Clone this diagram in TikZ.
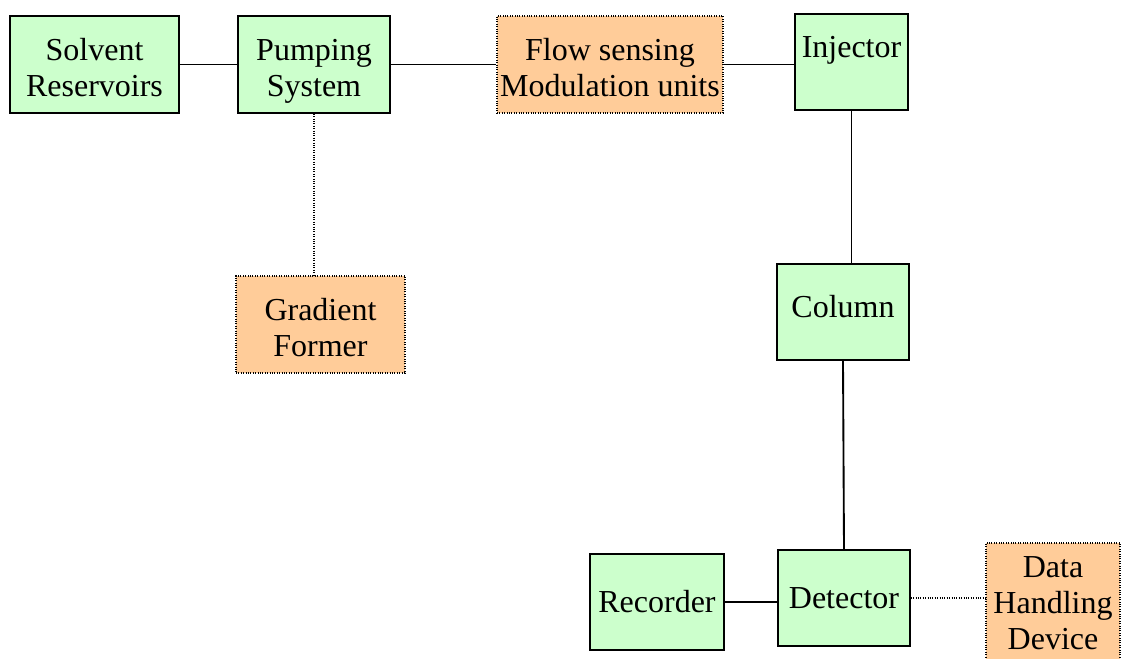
\documentclass[tikz,border=0pt]{standalone}
\usepackage{fontspec}
\setmainfont{Liberation Serif}
\usepackage{tikz}

\begin{document}
\begin{tikzpicture} [x=0.75pt,y=-0.75pt,
			unit/.style={draw,line width=1.1pt,fill={rgb,255:red,204;green,255;blue,204},inner sep=0pt,align=center,font=\fontsize{24}{27}\selectfont},
			extra/.style={draw,densely dotted,line width=0.8pt,fill={rgb,255:red,255;green,204;blue,153},inner sep=0pt,align=center,font=\fontsize{24}{27}\selectfont},
			twoline/.style={text height=50pt,text depth=2pt},
			link/.style={line width=1.4pt},
			dotlink/.style={densely dotted,line width=0.8pt}]
			\clip (0,0) rectangle (1122,659);
			\fill[white] (0,0) rectangle (1122,659);
			
			\node[unit,twoline,minimum width=126.75pt,minimum height=72.75pt] (solvent) at (94.5,64.5) {Solvent\\Reservoirs};
			\node[unit,twoline,minimum width=114pt,minimum height=72.75pt] (pump) at (314,64.5) {Pumping\\System};
			\node[extra,twoline,minimum width=169.5pt,minimum height=72.75pt] (flow) at (610,64.5) {Flow sensing\\Modulation units};
			\node[unit,minimum width=84.75pt,minimum height=72pt] (inj) at (851.5,62) {\raisebox{9pt}[\height][\depth]{Injector}};
			\node[extra,twoline,minimum width=126.75pt,minimum height=72.75pt] (grad) at (320.5,324.5) {Gradient\\Former};
			\node[unit,text height=16pt,text depth=7pt,minimum width=99pt,minimum height=72pt] (col) at (843,312) {Column};
			\node[unit,minimum width=100.5pt,minimum height=72pt] (rec) at (657,602) {Recorder};
			\node[unit,minimum width=99pt,minimum height=72pt] (det) at (844,598) {Detector};
			\node[extra,minimum width=100.5pt,minimum height=90pt] (data) at (1053,603) {Data\\Handling\\Device};
			
			\draw[link] (solvent.east) -- (pump.west);
			\draw[link] (pump.east) -- (flow.west);
			\draw[link] (flow.east) -- (flow.east -| inj.west);
			\draw[link] (inj.south) -- (inj.south |- col.north);
			\draw[link] (col.south) -- (det.north);
			\draw[link] (rec.east) -- (rec.east -| det.west);
			
			\draw[dotlink] (pump.south) -- (pump.south |- grad.north);
			\draw[dotlink] (det.east) -- (det.east -| data.west);
			\end{tikzpicture}
\end{document}
